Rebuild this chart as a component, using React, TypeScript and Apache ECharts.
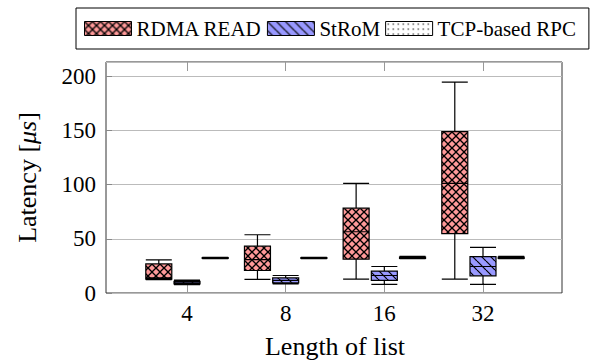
import React, { useEffect, useRef } from "react";
import * as echarts from "echarts";

const categories = ["4", "8", "16", "32"];
const seriesNames = ["RDMA READ", "StRoM", "TCP-based RPC"];
// [min, Q1, median, Q3, max]
const rdmaRead = [
  [11.5, 12, 13, 26, 29.7],
  [11.6, 19.9, 30, 42.4, 53],
  [12, 30.4, 55.8, 77.6, 100.6],
  [12, 54, 100.6, 148.5, 194.3],
];
const strom = [
  [6.8, 7.5, 8.5, 9.8, 11],
  [7.5, 8.5, 10.7, 13, 15.3],
  [7, 10.7, 15.3, 19.4, 23.6],
  [7, 15, 23.6, 32.8, 41.4],
];
const tcpRpc = [
  [31, 31.2, 31.5, 31.8, 32],
  [31, 31.2, 31.6, 31.9, 32.2],
  [30.8, 31.2, 31.7, 32.3, 33],
  [30.8, 31.2, 31.7, 32.3, 33],
];
const yMin = 0;
const yMax = 213;
const yInterval = 50;

const FONT = "Liberation Serif";

function makePattern(kind: "cross" | "lines" | "dots") {
  const size = kind === "cross" ? 8 : kind === "lines" ? 9 : 5;
  const c = document.createElement("canvas");
  c.width = size;
  c.height = size;
  const g = c.getContext("2d")!;
  if (kind === "cross") {
    g.fillStyle = "#ff9999";
    g.fillRect(0, 0, size, size);
    g.strokeStyle = "#000";
    g.lineWidth = 1.3;
    for (const o of [-size, 0, size]) {
      g.beginPath();
      g.moveTo(o, 0);
      g.lineTo(o + size, size);
      g.stroke();
      g.beginPath();
      g.moveTo(o + size, 0);
      g.lineTo(o, size);
      g.stroke();
    }
  } else if (kind === "lines") {
    g.fillStyle = "#9999ff";
    g.fillRect(0, 0, size, size);
    g.strokeStyle = "#000";
    g.lineWidth = 1.2;
    for (const o of [-size, 0, size]) {
      g.beginPath();
      g.moveTo(o, 0);
      g.lineTo(o + size, size);
      g.stroke();
    }
  } else {
    g.fillStyle = "#ffffff";
    g.fillRect(0, 0, size, size);
    g.fillStyle = "#000";
    g.fillRect(2, 2, 1.2, 1.2);
  }
  return {
    image: c.toDataURL(),
    repeat: "repeat",
    imageWidth: size,
    imageHeight: size,
  } as any;
}

export default function App() {
  const ref = useRef<HTMLDivElement>(null);
  useEffect(() => {
    if (!ref.current) return;
    const chart = echarts.init(ref.current, null, { renderer: "svg" });
    const patterns = [makePattern("cross"), makePattern("lines"), makePattern("dots")];
    const datasets = [rdmaRead, strom, tcpRpc];

    const option: any = {
      animation: false,
      backgroundColor: "#fff",
      textStyle: { fontFamily: FONT },
      legend: {
        left: 76,
        top: 8,
        icon: "rect",
        itemWidth: 47,
        itemHeight: 14,
        itemGap: 5,
        padding: [10, 13, 10, 8],
        borderColor: "#000",
        borderWidth: 1,
        textStyle: { fontFamily: FONT, fontSize: 21, color: "#000" },
        data: seriesNames.map((n, i) => ({
          name: n,
          itemStyle: { color: patterns[i], borderColor: "#000", borderWidth: 1 },
        })),
      },
      grid: [
        { left: 106, right: 33, top: 62, bottom: 71, show: true, borderColor: "#333", borderWidth: 1, backgroundColor: "transparent" },
        { left: 137.67, right: 62.67, top: 62, bottom: 71 },
      ],
      xAxis: [
        { gridIndex: 0, type: "value", show: false, min: 0, max: 1 },
        {
          gridIndex: 1,
          type: "category",
          data: categories,
          position: "bottom",
          axisLine: { show: false },
          axisTick: { show: true, inside: true, alignWithLabel: true, length: 9, lineStyle: { color: "#999" } },
          axisLabel: { fontFamily: FONT, fontSize: 23, color: "#000", margin: 10 },
          name: "Length of list",
          nameLocation: "middle",
          nameGap: 41,
          nameTextStyle: { fontFamily: FONT, fontSize: 26, color: "#000" },
        },
        {
          gridIndex: 1,
          type: "category",
          data: categories,
          position: "top",
          axisLine: { show: false },
          axisTick: { show: true, inside: true, alignWithLabel: true, length: 9, lineStyle: { color: "#999" } },
          axisLabel: { show: false },
        },
      ],
      yAxis: [
        {
          gridIndex: 0,
          type: "value",
          min: yMin,
          max: yMax,
          interval: yInterval,
          axisLine: { show: false },
          axisTick: { show: true, inside: true, length: 6, lineStyle: { color: "#888" } },
          axisLabel: { fontFamily: FONT, fontSize: 23, color: "#000", margin: 10, showMaxLabel: false },
          splitLine: { show: true, lineStyle: { color: "#bbb", width: 1 } },
          name: "Latency [{i|μs}]",
          nameLocation: "middle",
          nameGap: 66,
          nameTextStyle: {
            fontFamily: FONT,
            fontSize: 26,
            color: "#000",
            rich: { i: { fontFamily: FONT, fontSize: 26, fontStyle: "italic", color: "#000" } },
          },
        },
        { gridIndex: 1, type: "value", min: yMin, max: yMax, interval: yInterval, show: false },
      ],
      series: seriesNames.map((n, i) => ({
        name: n,
        type: "boxplot",
        xAxisIndex: 1,
        yAxisIndex: 1,
        boxWidth: [26, 26],
        data: datasets[i],
        itemStyle: { color: patterns[i], borderColor: "#000", borderWidth: 1.2 },
        emphasis: { disabled: true },
      })),
    };
    chart.setOption(option);
    return () => chart.dispose();
  }, []);
  return (
    <div
      ref={ref}
      style={{ position: "absolute", left: 0, top: 0, width: 595, height: 364 }}
    />
  );
}
